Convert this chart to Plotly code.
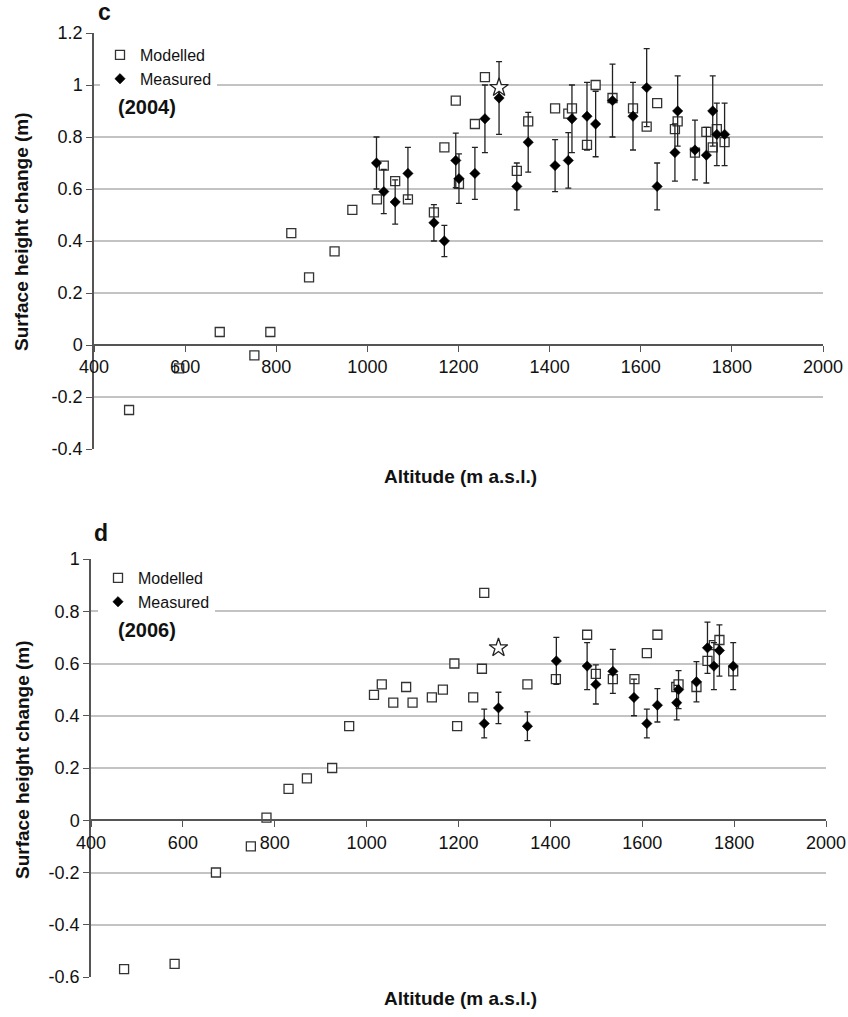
import plotly.graph_objects as go

# ---------------- Data (panel c, 2004) ----------------
mod04_x = [477, 587, 676, 752, 787, 833, 872, 928, 967, 1021, 1036, 1061, 1089, 1146, 1169, 1194, 1201,
           1236, 1258, 1328, 1353, 1412, 1441, 1449, 1482, 1501, 1538, 1583, 1613, 1636, 1675, 1681,
           1719, 1744, 1758, 1767, 1784]
mod04_y = [-0.25, -0.09, 0.05, -0.04, 0.05, 0.43, 0.26, 0.36, 0.52, 0.56, 0.69, 0.63, 0.56, 0.51, 0.76,
           0.94, 0.62, 0.85, 1.03, 0.67, 0.86, 0.91, 0.89, 0.91, 0.77, 1.00, 0.95, 0.91, 0.84, 0.93,
           0.83, 0.86, 0.74, 0.82, 0.76, 0.83, 0.78]
meas04_x = [1020, 1036, 1061, 1089, 1146, 1169, 1194, 1201, 1236, 1258, 1289, 1328, 1353, 1412, 1441,
            1449, 1482, 1501, 1538, 1583, 1613, 1636, 1675, 1681, 1719, 1744, 1758, 1767, 1784]
meas04_y = [0.70, 0.59, 0.55, 0.66, 0.47, 0.40, 0.71, 0.64, 0.66, 0.87, 0.95, 0.61, 0.78, 0.69, 0.71,
            0.87, 0.88, 0.85, 0.94, 0.88, 0.99, 0.61, 0.74, 0.90, 0.75, 0.73, 0.90, 0.81, 0.81]
meas04_err = [0.10, 0.085, 0.085, 0.10, 0.07, 0.06, 0.105, 0.095, 0.10, 0.13, 0.14, 0.09, 0.115, 0.10,
              0.107, 0.13, 0.13, 0.126, 0.14, 0.13, 0.15, 0.09, 0.11, 0.135, 0.115, 0.107, 0.135, 0.12, 0.12]
star04_x = [1289]
star04_y = [0.99]

# ---------------- Data (panel d, 2006) ----------------
mod06_x = [472, 582, 672, 748, 782, 830, 870, 925, 962, 1016, 1033, 1058, 1086, 1100, 1142, 1166, 1191,
           1197, 1232, 1251, 1256, 1350, 1412, 1480, 1499, 1536, 1583, 1610, 1633, 1674, 1679, 1718,
           1742, 1756, 1768, 1798]
mod06_y = [-0.57, -0.55, -0.20, -0.10, 0.01, 0.12, 0.16, 0.20, 0.36, 0.48, 0.52, 0.45, 0.51, 0.45, 0.47,
           0.50, 0.60, 0.36, 0.47, 0.58, 0.87, 0.52, 0.54, 0.71, 0.56, 0.54, 0.54, 0.64, 0.71, 0.51,
           0.52, 0.51, 0.61, 0.67, 0.69, 0.57]
meas06_x = [1256, 1287, 1350, 1413, 1480, 1499, 1536, 1582, 1610, 1633, 1675, 1679, 1718, 1742, 1756,
            1768, 1798]
meas06_y = [0.37, 0.43, 0.36, 0.61, 0.59, 0.52, 0.57, 0.47, 0.37, 0.44, 0.45, 0.50, 0.53, 0.66, 0.59,
            0.65, 0.59]
meas06_err = [0.055, 0.06, 0.055, 0.09, 0.09, 0.075, 0.084, 0.07, 0.055, 0.064, 0.066, 0.073, 0.077,
              0.098, 0.09, 0.098, 0.09]
star06_x = [1287]
star06_y = [0.66]

x_ticks = [400, 600, 800, 1000, 1200, 1400, 1600, 1800, 2000]
y_ticks_c = [-0.4, -0.2, 0, 0.2, 0.4, 0.6, 0.8, 1, 1.2]
y_ticks_d = [-0.6, -0.4, -0.2, 0, 0.2, 0.4, 0.6, 0.8, 1]

# ---------------- Layout geometry (pixels) ----------------
W, H = 848, 1017
FONT = "Liberation Sans, Arial, sans-serif"

def px_x(p):
    return p / W

def px_y(p):
    return 1 - p / H

top = dict(x0=94, x1=823, y0=33, y1=449, ymin=-0.4, ymax=1.2)
bot = dict(x0=91, x1=826, y0=559, y1=977, ymin=-0.6, ymax=1.0)

fig = go.Figure()

sq_marker = dict(symbol="square", size=9, color="white", line=dict(color="#333333", width=1.3))
dm_marker = dict(symbol="diamond", size=8, color="black", line=dict(color="black", width=0.5))
star_marker = dict(symbol="star", size=14, color="white", line=dict(color="#222222", width=1.3))
err_style = dict(type="data", visible=True, color="#222222", thickness=1.3, width=3)

def add_panel(mx, my, ex, ey, ee, sx, sy, xa, ya, legend):
    fig.add_trace(go.Scatter(x=mx, y=my, mode="markers", name="Modelled", marker=sq_marker,
                             xaxis=xa, yaxis=ya, legend=legend, cliponaxis=False))
    fig.add_trace(go.Scatter(x=ex, y=ey, mode="markers", name="Measured", marker=dm_marker,
                             error_y=dict(array=ee, **err_style),
                             xaxis=xa, yaxis=ya, legend=legend, cliponaxis=False))
    fig.add_trace(go.Scatter(x=sx, y=sy, mode="markers", name="star", marker=star_marker,
                             showlegend=False, xaxis=xa, yaxis=ya, cliponaxis=False))

add_panel(mod04_x, mod04_y, meas04_x, meas04_y, meas04_err, star04_x, star04_y, "x", "y", "legend")
add_panel(mod06_x, mod06_y, meas06_x, meas06_y, meas06_err, star06_x, star06_y, "x2", "y2", "legend2")

TICKFONT = dict(family=FONT, size=18, color="#111111")

def xaxis_cfg(g):
    zero_px = g["y0"] + (g["ymax"] - 0) / (g["ymax"] - g["ymin"]) * (g["y1"] - g["y0"])
    return dict(domain=[px_x(g["x0"]), px_x(g["x1"])], range=[400, 2000],
                tickvals=x_ticks, ticks="outside", ticklen=6, tickcolor="#555555", tickwidth=1.3,
                showline=True, linecolor="#555555", linewidth=1.5, showgrid=False, zeroline=False,
                tickfont=TICKFONT, anchor="free", position=px_y(zero_px), fixedrange=True,
                automargin=False)

def yaxis_cfg(g, ticks, xa):
    return dict(domain=[px_y(g["y1"]), px_y(g["y0"])], range=[g["ymin"], g["ymax"]],
                tickvals=ticks, ticktext=[("%g" % t) for t in ticks],
                ticks="outside", ticklen=6, tickcolor="#555555", tickwidth=1.3,
                showline=True, linecolor="#555555", linewidth=1.5,
                showgrid=True, gridcolor="#c3c3c3", gridwidth=1.5, zeroline=False,
                tickfont=TICKFONT, anchor=xa, fixedrange=True, automargin=False)

LEGFONT = dict(family=FONT, size=16, color="#111111")
fig.update_layout(
    width=W, height=H,
    margin=dict(l=0, r=0, t=0, b=0, autoexpand=False),
    paper_bgcolor="white", plot_bgcolor="white",
    font=dict(family=FONT, color="#111111"),
    xaxis=xaxis_cfg(top), yaxis=yaxis_cfg(top, y_ticks_c, "x"),
    xaxis2=xaxis_cfg(bot), yaxis2=yaxis_cfg(bot, y_ticks_d, "x2"),
    legend=dict(x=px_x(100), y=px_y(38), xanchor="left", yanchor="top", bgcolor="white",
                font=LEGFONT, itemwidth=30, tracegroupgap=0, borderwidth=0),
    legend2=dict(x=px_x(98), y=px_y(561), xanchor="left", yanchor="top", bgcolor="white",
                 font=LEGFONT, itemwidth=30, tracegroupgap=0, borderwidth=0),
    showlegend=True,
)

ann = []
def add_text(text, x, y, size, bold=True, angle=0, xanchor="center"):
    ann.append(dict(text=("<b>%s</b>" % text) if bold else text, x=px_x(x), y=px_y(y),
                    xref="paper", yref="paper", showarrow=False, textangle=angle,
                    xanchor=xanchor, yanchor="middle",
                    font=dict(family=FONT, size=size, color="#111111")))

add_text("c", 96, 12, 23, xanchor="left")
add_text("d", 92, 533, 23, xanchor="left")
add_text("(2004)", 116, 107, 20, xanchor="left")
add_text("(2006)", 116, 630, 20, xanchor="left")
add_text("Altitude (m a.s.l.)", 460, 476, 19)
add_text("Altitude (m a.s.l.)", 460, 998, 19)
add_text("Surface height change (m)", 22, 232, 19, angle=-90)
add_text("Surface height change (m)", 22, 760, 19, angle=-90)
fig.update_layout(annotations=ann)

fig.write_html("out.html", post_script="document.body.style.margin='0';document.body.style.overflow='hidden';")
